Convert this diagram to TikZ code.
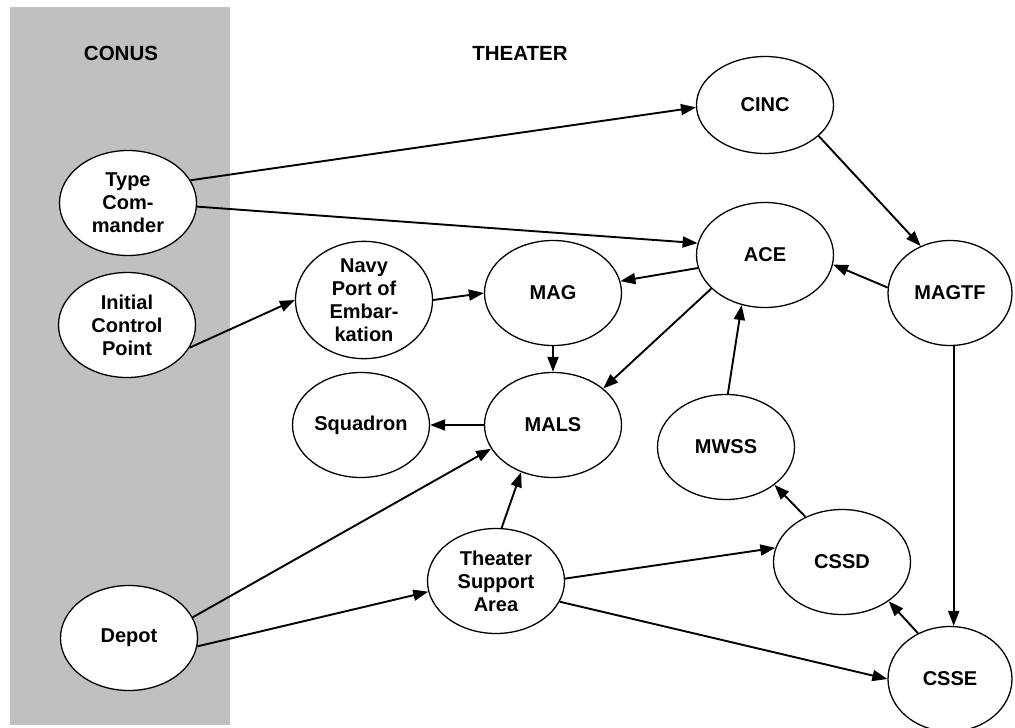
\documentclass[tikz,border=0pt]{standalone}
\usepackage{fontspec}
\setmainfont{Liberation Sans}
\usetikzlibrary{shapes.geometric,arrows.meta}
\definecolor{conusgray}{RGB}{192,192,192}
\begin{document}
\begin{tikzpicture}[x=1pt,y=-1pt,
  el/.style={ellipse,draw,line width=1.3pt,fill=white,minimum width=137pt,minimum height=105pt,inner sep=0pt,align=center,font=\fontsize{20}{23}\selectfont\bfseries},
  arr/.style={line width=1.9pt,-{Triangle[length=15pt,width=11pt]}},
  hd/.style={font=\fontsize{20.5}{23}\selectfont\bfseries}]
\useasboundingbox (0,0) rectangle (1015,728);
\fill[conusgray] (10,7) rectangle (230,725);
\node[hd] (conus) at (121,53) {CONUS};
\node[hd] (theater) at (520,53) {THEATER};

\node[el] (tc) at (128,203) {Type\\Com-\\mander};
\node[el] (icp) at (127,325) {Initial\\Control\\Point};
\node[el] (depot) at (129,638) {Depot};
\node[el] (navy) at (364,300) {Navy\\Port of\\Embar-\\kation};
\node[el] (mag) at (553,293) {MAG};
\node[el] (mals) at (553,425) {MALS};
\node[el] (sq) at (361,425) {Squadron};
\node[el,minimum height=97pt] (cinc) at (765,105) {CINC};
\node[el] (ace) at (765,255) {ACE};
\node[el,minimum width=124pt] (magtf) at (950,293) {MAGTF};
\node[el] (mwss) at (726,447) {MWSS};
\node[el] (cssd) at (842,562) {CSSD};
\node[el,minimum width=124pt] (csse) at (950,679) {CSSE};
\node[el] (tsa) at (496,581) {Theater\\Support\\Area};

\draw[arr] (tc.20) -- (cinc.182);
\draw[arr] (tc.-3) -- (ace.170);
\draw[arr] (icp.-20) -- (navy.west);
\draw[arr] (navy.east) -- (mag.west);
\draw[arr] (ace.191) -- (mag.10);
\draw[arr] (mag.south) -- (mals.north);
\draw[arr] (ace.212) -- (mals.36);
\draw[arr] (mals.west) -- (sq.east);
\draw[arr] (depot.18) -- (mals.201);
\draw[arr] (depot.-7) -- (tsa.189);
\draw[arr] (tsa.84) -- (mals.236);
\draw[arr] (tsa.2) -- (cssd.168);
\draw[arr] (tsa.-18) -- (csse.west);
\draw[arr] (cinc.-30) -- (magtf.122);
\draw[arr] (magtf.175) -- (ace.-8);
\draw[arr] (magtf.-86) -- (csse.86);
\draw[arr] (mwss.88) -- (ace.245);
\draw[arr] (cssd.129) -- (mwss.-38);
\draw[arr] (csse.125) -- (cssd.-40);
\end{tikzpicture}
\end{document}
